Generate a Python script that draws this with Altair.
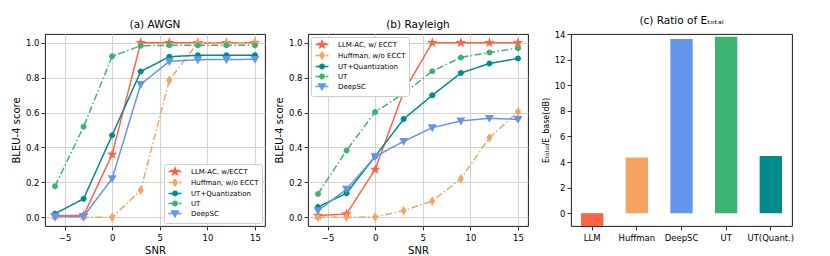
import math
import altair as alt
import pandas as pd

# ---------------- data ----------------
snr = [-6, -3, 0, 3, 6, 9, 12, 15]

methods_a = ["LLM-AC, w/ECCT", "Huffman, w/o ECCT", "UT+Quantization", "UT", "DeepSC"]
methods_b = ["LLM-AC, w/ ECCT", "Huffman, w/o ECCT", "UT+Quantization", "UT", "DeepSC"]

awgn_llm = [0.01, 0.01, 0.36, 1.0, 1.0, 1.0, 1.0, 1.0]
awgn_huff = [0.0, 0.0, 0.0, 0.155, 0.785, 1.0, 1.0, 1.0]
awgn_utq = [0.02, 0.106, 0.47, 0.835, 0.92, 0.928, 0.928, 0.928]
awgn_ut = [0.178, 0.518, 0.922, 0.983, 0.985, 0.985, 0.985, 0.985]
awgn_deepsc = [0.005, 0.005, 0.222, 0.761, 0.893, 0.903, 0.904, 0.905]

ray_llm = [0.01, 0.019, 0.274, 0.72, 1.0, 1.0, 1.0, 1.0]
ray_huff = [0.0, 0.0, 0.002, 0.038, 0.093, 0.22, 0.456, 0.603]
ray_utq = [0.059, 0.138, 0.349, 0.563, 0.699, 0.826, 0.881, 0.91]
ray_ut = [0.134, 0.383, 0.603, 0.709, 0.837, 0.916, 0.944, 0.969]
ray_deepsc = [0.038, 0.161, 0.347, 0.435, 0.513, 0.552, 0.567, 0.561]

bar_cats = ["LLM", "Huffman", "DeepSC", "UT", "UT(Quant.)"]
bar_vals = [-1.0, 4.35, 13.6, 13.78, 4.46]

colors = ["#ff6347", "#f4a460", "#008b8b", "#3cb371", "#6495ed"]
bar_colors = ["#ff6347", "#f4a460", "#6495ed", "#3cb371", "#008b8b"]

FONT = "DejaVu Sans"


# ---------------- marker paths (unit box -1..1) ----------------
def star_path(cx=0.0, R=1.0, r=0.4):
    pts = []
    for k in range(10):
        ang = math.radians(-90 + 36 * k)
        rad = R if k % 2 == 0 else r
        pts.append((cx + rad * math.cos(ang), rad * math.sin(ang)))
    return "M" + "L".join(f"{x:.3f},{y:.3f}" for x, y in pts) + "Z"


def diamond_path(cx=0.0, h=1.0, w=0.6):
    return f"M{cx:.3f},{-h:.3f}L{cx + w:.3f},0L{cx:.3f},{h:.3f}L{cx - w:.3f},0Z"


def circle_path(cx=0.0, r=1.0):
    return (f"M{cx + r:.3f},0A{r:.3f},{r:.3f} 0 1,1 {cx - r:.3f},0"
            f"A{r:.3f},{r:.3f} 0 1,1 {cx + r:.3f},0Z")


def tri_down_path(cx=0.0, r=1.0):
    return (f"M{cx - r:.3f},{-0.75 * r:.3f}L{cx + r:.3f},{-0.75 * r:.3f}"
            f"L{cx:.3f},{1.0 * r:.3f}Z")


# plot markers: constant symbol size 100 (1 unit = 5 px), size set by geometry
point_shapes = [
    star_path(0, 1.1, 0.45),
    diamond_path(0, 0.95, 0.6),
    circle_path(0, 0.6),
    circle_path(0, 0.6),
    tri_down_path(0, 0.9),
]

# legend symbols: short line (solid / dash-dot) + marker ; 1 unit = 3.5 px
u = 3.5
def ux(px):
    return px / u

L0, L1, MC = ux(-3.0), ux(10.0), ux(3.5)
solid_line = f"M{L0:.3f},0L{L1:.3f},0"
segs = [(-3.0, 2.0), (4.0, 5.2), (7.2, 10.0)]
dashdot_line = "".join(f"M{ux(a):.3f},0L{ux(b):.3f},0" for a, b in segs)
legend_shapes = [
    solid_line + star_path(MC, ux(3.8), ux(1.6)),
    dashdot_line + diamond_path(MC, ux(3.5), ux(2.3)),
    solid_line + circle_path(MC, ux(2.3)),
    dashdot_line + circle_path(MC, ux(2.3)),
    solid_line + tri_down_path(MC, ux(3.4)),
]
dashes = [[1, 0], [7, 2.5, 1.5, 2.5], [1, 0], [7, 2.5, 1.5, 2.5], [1, 0]]


def make_df(methods, series):
    rows = []
    for m, vals in zip(methods, series):
        for s, v in zip(snr, vals):
            rows.append({"snr": s, "bleu": v, "method": m, "lmethod": m})
    return pd.DataFrame(rows)


def line_panel(methods, series, title, legend_orient):
    df = make_df(methods, series)
    x = alt.X("snr:Q", title="SNR",
              scale=alt.Scale(domain=[-7.05, 16.05], nice=False, zero=False),
              axis=alt.Axis(values=[-5, 0, 5, 10, 15], grid=True, titlePadding=4, labelPadding=3))
    y = alt.Y("bleu:Q", title="BLEU-4 score",
              scale=alt.Scale(domain=[-0.05, 1.05], nice=False, zero=False),
              axis=alt.Axis(values=[0, 0.2, 0.4, 0.6, 0.8, 1.0], format=".1f", grid=True,
                            titlePadding=4))
    cscale = alt.Scale(domain=methods, range=colors)
    base = alt.Chart(df).encode(x=x, y=y)
    lines = base.mark_line(strokeWidth=1.5).encode(
        color=alt.Color("method:N", scale=cscale, legend=None),
        strokeDash=alt.StrokeDash("method:N", scale=alt.Scale(domain=methods, range=dashes), legend=None),
    )
    pts = base.mark_point(filled=True, opacity=1, size=100).encode(
        color=alt.Color("method:N", scale=cscale, legend=None),
        shape=alt.Shape("method:N", scale=alt.Scale(domain=methods, range=point_shapes), legend=None),
    )
    leg = alt.Legend(title=None, orient=legend_orient, offset=3, labelFontSize=7, labelFont=FONT,
                     labelColor="black",
                     symbolSize=49, symbolStrokeWidth=1.3, labelOffset=15, rowPadding=-5,
                     padding=3, fillColor="white", strokeColor="#cccccc", cornerRadius=2,
                     labelLimit=200)
    lscale = alt.Scale(domain=methods, range=colors)
    legend_layer = base.mark_point(filled=True, opacity=1, strokeWidth=1.3).encode(
        color=alt.Color("lmethod:N", scale=lscale, legend=leg),
        stroke=alt.Stroke("lmethod:N", scale=alt.Scale(domain=methods, range=colors), legend=leg),
        shape=alt.Shape("lmethod:N", scale=alt.Scale(domain=methods, range=legend_shapes), legend=leg),
    ).transform_filter("datum.snr > 100")
    return alt.layer(lines, pts, legend_layer).resolve_scale(
        color="independent", shape="independent", stroke="independent"
    ).properties(width=220, height=192, title=title)


panel_a = line_panel(methods_a, [awgn_llm, awgn_huff, awgn_utq, awgn_ut, awgn_deepsc],
                     "(a) AWGN", "bottom-right")
panel_b = line_panel(methods_b, [ray_llm, ray_huff, ray_utq, ray_ut, ray_deepsc],
                     "(b) Rayleigh", "top-left")

bar_df = pd.DataFrame({"cat": bar_cats, "val": bar_vals})
panel_c = alt.Chart(bar_df).mark_bar().encode(
    x=alt.X("cat:N", sort=bar_cats, title=None,
            scale=alt.Scale(paddingInner=0.5, paddingOuter=0.225),
            axis=alt.Axis(labelAngle=0, grid=False, labelPadding=3)),
    y=alt.Y("val:Q", title="Eₜₒₜₐₗ/E_base(dB)",
            scale=alt.Scale(domain=[-1, 14], nice=False, zero=False),
            axis=alt.Axis(values=list(range(0, 15, 2)), grid=False, titleFontSize=8,
                          titlePadding=4)),
    color=alt.Color("cat:N", scale=alt.Scale(domain=bar_cats, range=bar_colors), legend=None),
).properties(width=221, height=192, title="(c) Ratio of Eₜₒₜₐₗ")

chart = alt.hconcat(panel_a, panel_b, panel_c, spacing=43, bounds="flush").properties(
    padding={"left": 3, "top": 7, "right": 5, "bottom": 0}, background="white"
).configure_view(
    stroke="black", strokeWidth=0.9
).configure_axis(
    labelFont=FONT, titleFont=FONT, labelFontSize=8.5, titleFontSize=10,
    titleFontWeight="normal", labelColor="black", titleColor="black",
    tickColor="black", tickSize=4, tickWidth=0.8, labelPadding=2,
    domain=False, gridColor="#d3d3d3", gridWidth=1.1,
).configure_title(
    font=FONT, fontSize=10.5, fontWeight="normal", color="black", offset=0, anchor="middle"
)

chart.save("out.html", embed_options={"renderer": "svg", "actions": False})
